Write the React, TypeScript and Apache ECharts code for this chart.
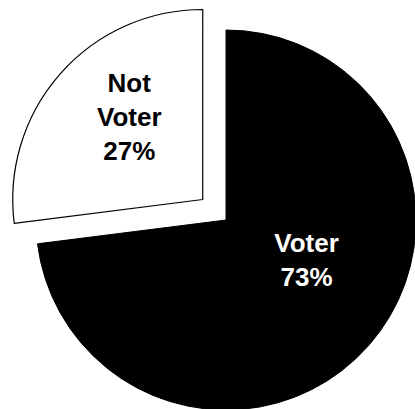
import React, { useEffect, useRef } from "react";
import * as echarts from "echarts";

const categories: string[] = ["Voter", "Not Voter"];
const values: number[] = [73, 27];
const labelTexts: string[] = ["Voter\n73%", "Not\nVoter\n27%"];

export default function App() {
  const ref = useRef<HTMLDivElement>(null);
  useEffect(() => {
    if (!ref.current) return;
    const chart = echarts.init(ref.current, undefined, { renderer: "svg" });
    const data = categories.map((name, i) => ({
      name,
      value: values[i],
      selected: i === 1,
      itemStyle:
        i === 0
          ? { color: "#000000", borderColor: "#000000", borderWidth: 1 }
          : { color: "#ffffff", borderColor: "#000000", borderWidth: 1.2 },
      label: {
        color: i === 0 ? "#ffffff" : "#000000",
        formatter: () => labelTexts[i],
      },
    }));
    chart.setOption({
      animation: false,
      backgroundColor: "#ffffff",
      series: [
        {
          type: "pie",
          center: [226, 220],
          radius: [0, 190],
          startAngle: 90,
          clockwise: true,
          selectedMode: "single",
          selectedOffset: 31,
          avoidLabelOverlap: false,
          emphasis: { disabled: true },
          label: {
            show: true,
            position: "inside",
            fontFamily: "'Liberation Sans', Arial, sans-serif",
            fontWeight: "bold",
            fontSize: 26,
            lineHeight: 34,
            align: "center",
          },
          labelLine: { show: false },
          labelLayout: (params: any) =>
            params.dataIndex === 0 ? { dx: 7, dy: -25 } : { dx: 0, dy: -18 },
          data,
        },
      ],
    });
    return () => chart.dispose();
  }, []);
  return (
    <div
      ref={ref}
      style={{ position: "fixed", left: 0, top: 0, width: 415, height: 409 }}
    />
  );
}
